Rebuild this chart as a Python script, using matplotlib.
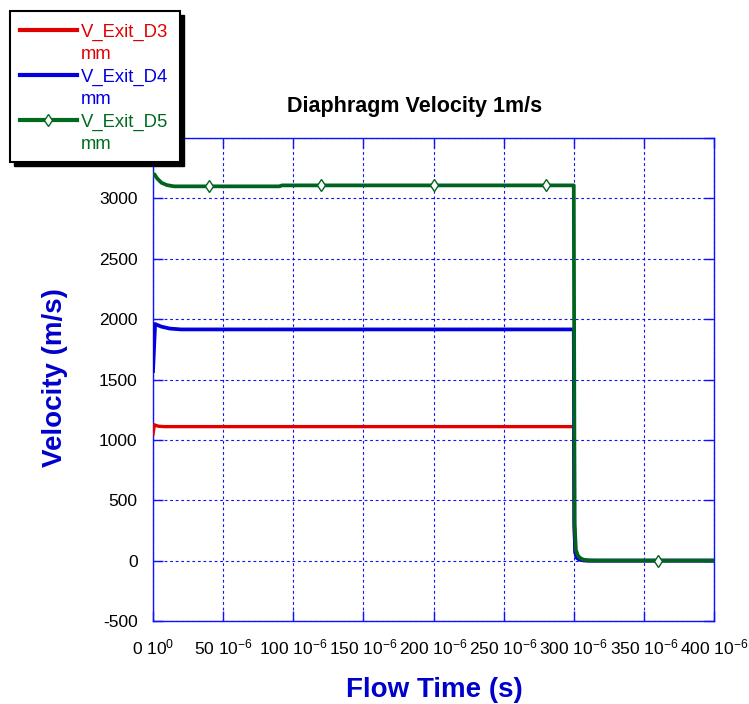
import matplotlib
matplotlib.use('Agg')
import matplotlib.pyplot as plt
import numpy as np
from matplotlib.lines import Line2D
from matplotlib.patches import Rectangle

plt.rcParams['font.family'] = ['Liberation Sans', 'DejaVu Sans']
plt.rcParams['mathtext.fontset'] = 'custom'
plt.rcParams['mathtext.rm'] = 'Liberation Sans'
plt.rcParams['mathtext.it'] = 'Liberation Sans:italic'
plt.rcParams['mathtext.bf'] = 'Liberation Sans:bold'
plt.rcParams['axes.unicode_minus'] = False

# exit velocity histories, time in microseconds, velocity in m/s
t_d3 = [0, 1, 2, 4, 8, 300, 300.4, 301, 302, 304, 307, 310, 400]
v_d3 = [1050, 1125, 1120, 1113, 1110, 1110, 250, 70, 25, 8, 2, 0, 0]

t_d4 = [0, 1.5, 3, 6, 12, 20, 300, 300.4, 301, 302, 304, 307, 310, 400]
v_d4 = [1570, 1960, 1952, 1938, 1922, 1915, 1915, 300, 70, 25, 8, 2, 0, 0]

t_d5 = [0, 1, 3, 6, 10, 15, 90, 92, 300, 300.6, 301.5, 303, 305, 307, 310, 315, 400]
v_d5 = [3190, 3200, 3165, 3130, 3110, 3100, 3100, 3108, 3108, 300, 90, 40, 18, 8, 3, 1, 1]

marker_t_d5 = [40, 120, 200, 280, 360]

x_ticks = [0, 50, 100, 150, 200, 250, 300, 350, 400]
x_tick_labels = ['0 $10^{0}$'] + ['%d $10^{-6}$' % v for v in x_ticks[1:]]
y_ticks = [-500, 0, 500, 1000, 1500, 2000, 2500, 3000, 3500]
y_tick_labels = ['-500', '0', '500', '1000', '1500', '2000', '2500', '3000', '']

c_red = '#e00000'
c_blue = '#0000e0'
c_green = '#006420'
c_grid = '#1010ff'

fig = plt.figure(figsize=(7.49, 7.04), dpi=100, facecolor='white')
ax = fig.add_axes([0.2043, 0.1179, 0.749, 0.686])

us = 1e-6
ax.plot(np.array(t_d3) * us, v_d3, color=c_red, lw=2.4, zorder=3)
ax.plot(np.array(t_d4) * us, v_d4, color=c_blue, lw=2.7, zorder=4)
ax.plot(np.array(t_d5) * us, v_d5, color=c_green, lw=2.7, zorder=5)
ax.plot(np.array(marker_t_d5) * us, np.interp(marker_t_d5, t_d5, v_d5),
        ls='none', marker='d', ms=6, mfc='white', mec=c_green, mew=1.0, zorder=6)

ax.set_xlim(0, 400 * us)
ax.set_ylim(-500, 3500)
ax.set_xticks(np.array(x_ticks) * us)
ax.set_xticklabels(x_tick_labels)
ax.set_yticks(y_ticks)
ax.set_yticklabels(y_tick_labels)

ax.grid(True, color=c_grid, ls=(0, (2.5, 2.5)), lw=0.8)
for s in ax.spines.values():
    s.set_color(c_grid)
    s.set_linewidth(1.0)
ax.tick_params(axis='both', direction='in', length=7, width=1, color=c_grid,
               top=True, right=True, labelsize=12.5)
ax.tick_params(axis='x', pad=12)
ax.tick_params(axis='y', pad=11)

fig.text(0.553, 0.849, 'Diaphragm Velocity 1m/s', fontsize=15.5,
         fontweight='bold', ha='center', va='center')
fig.text(55 / 749, 1 - 378 / 704, 'Velocity (m/s)', fontsize=20,
         fontweight='bold', color='#0000cc', rotation=90,
         ha='center', va='center')
fig.text(434 / 749, 1 - 690 / 704, 'Flow Time (s)', fontsize=20,
         fontweight='bold', color='#0000cc', ha='center', va='center')

# legend box with a hard black drop shadow
W, H = 749.0, 704.0
def fx(px):
    return px / W
def fy(py):
    return 1 - py / H

fig.add_artist(Rectangle((fx(14), fy(166)), fx(170), 151 / H,
                         transform=fig.transFigure, facecolor='black',
                         edgecolor='black', zorder=10))
fig.add_artist(Rectangle((fx(10), fy(162)), fx(170), 151 / H,
                         transform=fig.transFigure, facecolor='white',
                         edgecolor='black', lw=1.5, zorder=11))

entries = [('V_Exit_D3', c_red, None, 30),
           ('V_Exit_D4', c_blue, None, 75),
           ('V_Exit_D5', '#006b1f', 'd', 120)]
for label, col, mk, ypx in entries:
    fig.add_artist(Line2D([fx(20), fx(77)], [fy(ypx), fy(ypx)],
                          transform=fig.transFigure, color=col, lw=3, zorder=12))
    if mk:
        fig.add_artist(Line2D([fx(48)], [fy(ypx)], transform=fig.transFigure,
                              ls='none', marker=mk, ms=6, mfc='white',
                              mec=col, mew=1.0, zorder=13))
    fig.text(fx(81), fy(ypx + 6.5), label, color=col, fontsize=13.3,
             va='baseline', ha='left', zorder=13)
    fig.text(fx(81), fy(ypx + 29), 'mm', color=col, fontsize=13.3,
             va='baseline', ha='left', zorder=13)

fig.savefig('out.png', dpi=100)
